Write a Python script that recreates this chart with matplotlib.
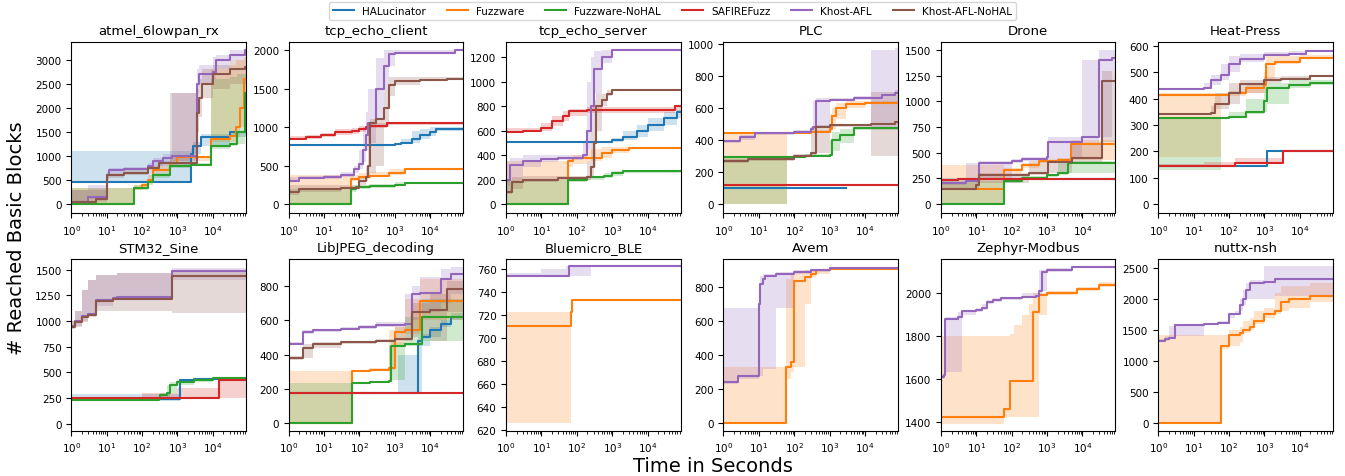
import matplotlib
matplotlib.use("Agg")
import matplotlib.pyplot as plt
from matplotlib.ticker import LogLocator, MultipleLocator

TOOLS = ["HALucinator", "Fuzzware", "Fuzzware-NoHAL", "SAFIREFuzz", "Khost-AFL", "Khost-AFL-NoHAL"]
COLORS = {
    "HALucinator": "#1f77b4",
    "Fuzzware": "#ff7f0e",
    "Fuzzware-NoHAL": "#2ca02c",
    "SAFIREFuzz": "#d62728",
    "Khost-AFL": "#9467bd",
    "Khost-AFL-NoHAL": "#8c564b",
}
T_END = 86400

# each series: (time, median, lower, upper)
ATMEL = {
    "HALucinator": ([1, 2500, 2700, 4500, 30000], [450, 1050, 1200, 1400, 1490],
                    [450, 950, 1050, 1200, 1400], [1100, 1150, 1300, 1450, 1520]),
    "Fuzzware": ([1, 58, 100, 150, 200, 600, 1000, 9000, 30000, 45000, 60000, 75000],
                 [0, 330, 400, 500, 700, 850, 980, 1350, 1420, 1600, 2000, 2600],
                 [0, 300, 350, 450, 650, 800, 900, 1300, 1300, 1400, 1600, 2000],
                 [330, 400, 450, 600, 800, 1000, 1000, 2800, 2900, 3000, 3000, 3050]),
    "Fuzzware-NoHAL": ([1, 58, 150, 200, 600, 2500, 9000, 30000, 50000, 80000],
                       [0, 330, 450, 600, 800, 820, 1200, 1250, 1500, 2300],
                       [0, 300, 400, 550, 750, 800, 1150, 1200, 1250, 1400],
                       [330, 400, 500, 650, 850, 850, 2600, 2650, 2700, 2700]),
    "Khost-AFL": ([1, 3, 10, 12, 30, 150, 200, 400, 700, 3500, 4000, 10000, 12000, 30000, 80000],
                  [50, 150, 600, 700, 730, 800, 900, 950, 1000, 2500, 2700, 2750, 3000, 3100, 3200],
                  [0, 100, 500, 650, 700, 750, 800, 850, 900, 2300, 2500, 2600, 2800, 3000, 3100],
                  [300, 400, 650, 750, 780, 850, 950, 1050, 2300, 2800, 2900, 3050, 3100, 3200, 3250]),
    "Khost-AFL-NoHAL": ([1, 5, 10, 30, 150, 300, 600, 3500, 4000, 5000, 10000, 30000, 80000],
                        [50, 100, 600, 650, 750, 850, 850, 1900, 2200, 2500, 2700, 2800, 2850],
                        [0, 50, 550, 600, 700, 800, 800, 1500, 1800, 2200, 2400, 2500, 2500],
                        [300, 300, 650, 700, 800, 900, 2300, 2400, 2600, 2800, 2900, 3000, 3050]),
}

TCP_CLIENT = {
    "HALucinator": ([1, 1000, 1500, 3000, 5000, 10000, 15000],
                    [770, 780, 790, 850, 900, 940, 970],
                    [770, 770, 780, 800, 850, 880, 950],
                    [770, 800, 850, 950, 980, 1000, 1000]),
    "Fuzzware": ([1, 58, 100, 200, 700, 2000], [0, 330, 350, 370, 400, 460],
                 [0, 300, 320, 350, 380, 450], [380, 380, 400, 420, 450, 470]),
    "Fuzzware-NoHAL": ([1, 58, 80, 200, 1000, 2000], [0, 200, 220, 230, 250, 270],
                       [0, 150, 200, 210, 230, 260], [200, 230, 250, 260, 280, 280]),
    "SAFIREFuzz": ([1, 3, 8, 20, 60, 100, 150, 200, 600],
                   [850, 870, 900, 940, 950, 980, 1000, 1020, 1050],
                   [830, 840, 870, 900, 910, 940, 960, 990, 1030],
                   [880, 900, 930, 970, 990, 1020, 1050, 1060, 1070]),
    "Khost-AFL": ([1, 2, 10, 30, 70, 100, 130, 150, 180, 300, 500, 700, 1000, 50000],
                  [300, 340, 350, 380, 450, 520, 700, 900, 1050, 1500, 1800, 1950, 1970, 2000],
                  [280, 320, 330, 350, 400, 450, 550, 700, 800, 1100, 1500, 1800, 1950, 1990],
                  [350, 360, 380, 420, 500, 700, 1000, 1200, 1500, 1900, 2000, 2000, 2000, 2010]),
    "Khost-AFL-NoHAL": ([1, 2, 30, 100, 150, 180, 200, 300, 500, 700, 1000, 5000, 30000],
                        [150, 200, 210, 300, 350, 500, 1050, 1100, 1250, 1550, 1600, 1620, 1630],
                        [120, 150, 200, 250, 300, 350, 400, 500, 1000, 1400, 1550, 1600, 1620],
                        [250, 250, 250, 350, 500, 900, 1100, 1100, 1500, 1650, 1650, 1650, 1650]),
}

TCP_SERVER = {
    "HALucinator": ([1, 1000, 2000, 5000, 10000, 30000, 70000],
                    [510, 520, 550, 600, 650, 700, 750],
                    [510, 510, 520, 550, 600, 650, 700],
                    [510, 540, 600, 650, 700, 750, 770]),
    "Fuzzware": ([1, 58, 80, 200, 500, 1000, 3000], [0, 350, 380, 380, 420, 440, 460],
                 [0, 300, 330, 350, 380, 420, 450], [350, 380, 400, 450, 470, 470, 470]),
    "Fuzzware-NoHAL": ([1, 58, 200, 600, 1000, 2000], [0, 200, 220, 230, 250, 270],
                       [0, 180, 200, 210, 230, 255], [200, 220, 230, 250, 270, 280]),
    "SAFIREFuzz": ([1, 3, 10, 20, 40, 60, 200, 60000], [590, 600, 620, 680, 720, 760, 770, 800],
                   [580, 590, 600, 640, 680, 720, 740, 760], [620, 620, 660, 720, 760, 780, 790, 810]),
    "Khost-AFL": ([1, 1.3, 3, 10, 30, 150, 200, 250, 300, 500, 1000],
                  [200, 320, 350, 370, 380, 400, 600, 800, 1100, 1200, 1260],
                  [150, 200, 300, 340, 360, 380, 450, 600, 900, 1150, 1250],
                  [350, 380, 400, 400, 400, 500, 1000, 1200, 1250, 1260, 1265]),
    "Khost-AFL-NoHAL": ([1, 1.5, 3, 30, 200, 250, 300, 350, 500, 700, 1000],
                        [100, 180, 200, 210, 220, 300, 500, 800, 850, 900, 930],
                        [80, 120, 180, 200, 200, 220, 300, 600, 800, 880, 920],
                        [200, 220, 230, 230, 350, 600, 850, 900, 900, 930, 940]),
}

PLC = {
    "HALucinator": ([1, 3000], [100, 100], [100, 100], [100, 100]),
    "Fuzzware": ([1, 62, 300, 1000, 1200, 1500, 3000, 10000],
                 [440, 440, 450, 470, 550, 600, 620, 630],
                 [0, 440, 440, 450, 470, 530, 600, 620],
                 [440, 440, 460, 560, 600, 630, 640, 640]),
    "Fuzzware-NoHAL": ([1, 62, 200, 1000, 1200, 2000, 5000],
                       [295, 295, 300, 305, 400, 430, 475],
                       [0, 295, 295, 300, 330, 380, 460],
                       [300, 300, 310, 400, 450, 470, 480]),
    "SAFIREFuzz": ([1], [115], [115], [115]),
    "Khost-AFL": ([1, 3, 8, 100, 300, 350, 400, 1000, 5000, 15000, 30000, 70000],
                  [390, 420, 440, 450, 470, 480, 640, 650, 660, 660, 680, 690],
                  [380, 400, 430, 440, 450, 460, 480, 640, 650, 470, 470, 480],
                  [400, 430, 450, 460, 480, 640, 660, 660, 670, 960, 960, 970]),
    "Khost-AFL-NoHAL": ([1, 5, 100, 300, 400, 1000, 15000, 70000],
                        [265, 280, 300, 320, 480, 490, 500, 510],
                        [255, 270, 290, 300, 320, 480, 300, 300],
                        [280, 290, 310, 480, 490, 500, 700, 710]),
}

DRONE = {
    "HALucinator": ([1, 3], [235, 240], [235, 240], [235, 240]),
    "Fuzzware": ([1, 60, 200, 600, 2000, 4700], [150, 330, 380, 420, 430, 580],
                 [0, 300, 350, 400, 420, 430], [380, 350, 400, 430, 450, 620]),
    "Fuzzware-NoHAL": ([1, 60, 200, 1000, 2000, 4000], [0, 220, 250, 280, 300, 400],
                       [0, 200, 230, 260, 280, 300], [220, 240, 270, 290, 400, 420]),
    "SAFIREFuzz": ([1, 3], [230, 240], [230, 240], [230, 240]),
    "Khost-AFL": ([1, 5, 12, 100, 200, 1000, 1100, 10000, 30000, 70000],
                  [200, 220, 400, 420, 440, 460, 600, 650, 1400, 1420],
                  [180, 200, 250, 400, 420, 440, 450, 600, 650, 1300],
                  [250, 400, 420, 440, 460, 600, 650, 1400, 1500, 1500]),
    "Khost-AFL-NoHAL": ([1, 10, 12, 300, 1100, 5000, 35000],
                        [150, 180, 280, 300, 410, 450, 1200],
                        [140, 150, 200, 280, 300, 400, 600],
                        [200, 250, 300, 420, 450, 600, 1300]),
}

HEAT_PRESS = {
    "HALucinator": ([1, 1200], [145, 200], [145, 200], [145, 200]),
    "Fuzzware": ([1, 60, 100, 300, 1000, 1100, 2000, 10000],
                 [415, 415, 420, 440, 450, 530, 540, 555],
                 [180, 415, 410, 420, 420, 470, 530, 550],
                 [420, 420, 430, 460, 500, 560, 560, 565]),
    "Fuzzware-NoHAL": ([1, 60, 100, 300, 1000, 1200, 5000, 20000],
                       [325, 325, 330, 350, 390, 440, 450, 460],
                       [130, 325, 330, 340, 350, 380, 440, 450],
                       [325, 330, 350, 400, 450, 460, 470, 470]),
    "SAFIREFuzz": ([1, 20, 150, 3300], [145, 145, 155, 200], [145, 145, 150, 200], [150, 160, 175, 200]),
    "Khost-AFL": ([1, 20, 30, 60, 100, 200, 1000, 5000, 15000],
                  [435, 440, 470, 490, 530, 550, 565, 570, 580],
                  [435, 435, 450, 470, 500, 540, 560, 565, 575],
                  [440, 460, 490, 530, 560, 570, 575, 580, 585]),
    "Khost-AFL-NoHAL": ([1, 30, 40, 100, 200, 1000, 3000, 20000],
                        [340, 345, 380, 420, 455, 470, 475, 485],
                        [340, 340, 360, 380, 420, 460, 470, 480],
                        [345, 370, 420, 460, 470, 480, 485, 490]),
}

STM32_SINE = {
    "HALucinator": ([1, 1200, 3000], [240, 420, 430], [220, 400, 420], [290, 430, 440]),
    "Fuzzware-NoHAL": ([1, 100, 300, 320, 500, 600, 1000, 3000, 10000],
                       [225, 230, 240, 280, 300, 380, 400, 420, 440],
                       [220, 225, 230, 240, 260, 300, 380, 400, 430],
                       [230, 240, 280, 300, 380, 400, 420, 440, 450]),
    "SAFIREFuzz": ([1, 100, 1000, 15000], [245, 250, 250, 420],
                   [240, 245, 245, 250], [250, 300, 350, 420]),
    "Khost-AFL": ([1, 1.3, 2, 3, 5, 15, 20, 700],
                  [950, 1000, 1050, 1070, 1200, 1220, 1230, 1490],
                  [930, 950, 1000, 1050, 1150, 1200, 1210, 1400],
                  [1000, 1100, 1300, 1400, 1450, 1450, 1470, 1520]),
    "Khost-AFL-NoHAL": ([1, 1.3, 2, 3, 5, 15, 20, 700],
                        [940, 990, 1040, 1060, 1190, 1210, 1215, 1440],
                        [920, 940, 990, 1040, 1100, 1100, 1100, 1080],
                        [1000, 1100, 1300, 1400, 1450, 1450, 1470, 1500]),
}

LIBJPEG = {
    "HALucinator": ([1, 1200, 4400, 6000, 10000, 20000, 40000],
                    [175, 175, 480, 500, 540, 580, 620],
                    [175, 175, 175, 450, 500, 560, 600],
                    [175, 400, 500, 520, 560, 600, 640]),
    "Fuzzware": ([1, 60, 200, 700, 1000, 2000, 5000], [0, 305, 310, 320, 530, 540, 710],
                 [0, 300, 305, 310, 450, 520, 600], [305, 310, 320, 540, 560, 720, 840]),
    "Fuzzware-NoHAL": ([1, 60, 200, 700, 800, 2000, 6000], [0, 235, 240, 245, 450, 460, 620],
                       [0, 230, 235, 240, 250, 450, 480], [235, 240, 245, 450, 470, 620, 720]),
    "SAFIREFuzz": ([1], [175], [175], [175]),
    "Khost-AFL": ([1, 2.5, 5, 30, 100, 300, 2000, 3000, 5000, 20000, 40000],
                  [460, 530, 540, 550, 560, 570, 575, 750, 760, 840, 870],
                  [455, 520, 530, 540, 550, 560, 560, 600, 650, 700, 750],
                  [470, 540, 550, 560, 570, 590, 750, 800, 850, 900, 910]),
    "Khost-AFL-NoHAL": ([1, 2.5, 5, 30, 300, 1000, 3000, 10000, 30000],
                        [380, 440, 460, 475, 480, 490, 650, 660, 780],
                        [370, 380, 440, 460, 470, 480, 500, 480, 650],
                        [390, 460, 470, 480, 490, 560, 700, 750, 830]),
}

BLUEMICRO = {
    "Fuzzware": ([1, 60, 70, 75], [710, 710, 722, 733], [626, 626, 722, 733], [722, 722, 733, 733]),
    "Khost-AFL": ([1, 10, 50, 60, 250], [754, 754, 754, 762, 762],
                  [754, 754, 754, 754, 762], [756, 760, 762, 762, 762]),
}

AVEM = {
    "Fuzzware": ([1, 60, 80, 100, 200, 300, 400, 1000],
                 [0, 330, 360, 840, 860, 880, 900, 910],
                 [0, 260, 300, 330, 700, 860, 880, 900],
                 [330, 850, 880, 890, 900, 905, 910, 915]),
    "Khost-AFL": ([1, 2.5, 10, 11, 13, 15, 30, 100, 300, 1000],
                  [245, 280, 700, 820, 850, 870, 880, 890, 900, 915],
                  [230, 260, 280, 280, 320, 320, 680, 880, 890, 905],
                  [680, 680, 690, 870, 880, 880, 890, 900, 910, 920]),
}

ZEPHYR = {
    "Fuzzware": ([1, 60, 90, 120, 200, 300, 400, 600, 1000, 7000, 30000],
                 [1420, 1460, 1590, 1590, 1590, 1590, 1910, 1990, 2000, 2020, 2040],
                 [1390, 1420, 1420, 1420, 1420, 1420, 1420, 1900, 1990, 2010, 2030],
                 [1800, 1800, 1810, 1850, 1900, 1950, 2000, 2000, 2010, 2030, 2050]),
    "Khost-AFL": ([1, 1.2, 1.3, 3, 4, 10, 15, 20, 30, 50, 200, 500, 600, 700, 1000, 5000],
                  [1610, 1620, 1880, 1890, 1915, 1920, 1930, 1960, 1970, 1975, 1980, 1985, 2010, 2100, 2110, 2120],
                  [1600, 1610, 1630, 1630, 1900, 1910, 1920, 1950, 1960, 1970, 1975, 1980, 1990, 2010, 2100, 2115],
                  [1620, 1880, 1890, 1910, 1920, 1930, 1950, 1970, 1975, 1980, 2000, 2000, 2110, 2110, 2115, 2125]),
}

NUTTX = {
    "Fuzzware": ([1, 60, 100, 200, 250, 400, 500, 1000, 2000, 3000, 5000, 20000],
                 [0, 1250, 1420, 1450, 1500, 1550, 1650, 1750, 1800, 1950, 2000, 2040],
                 [0, 1200, 1250, 1300, 1450, 1500, 1600, 1700, 1750, 1800, 1850, 1950],
                 [1420, 1420, 1500, 1550, 1650, 1700, 1800, 1850, 2100, 2200, 2200, 2250]),
    "Khost-AFL": ([1, 1.5, 2, 3, 20, 50, 100, 150, 200, 250, 300, 400, 1000, 2000],
                  [1320, 1350, 1370, 1580, 1590, 1610, 1750, 1760, 1900, 2000, 2150, 2250, 2270, 2320],
                  [1300, 1320, 1350, 1400, 1580, 1600, 1700, 1750, 1800, 1900, 2000, 2000, 2000, 2050],
                  [1350, 1400, 1560, 1600, 1600, 1650, 1780, 1800, 2000, 2150, 2250, 2300, 2530, 2530]),
}

# (title, series, y-limits, y-tick step)
PANELS = [
    ("atmel_6lowpan_rx", ATMEL, (-190, 3370), 500),
    ("tcp_echo_client", TCP_CLIENT, (-120, 2110), 500),
    ("tcp_echo_server", TCP_SERVER, (-75, 1325), 200),
    ("PLC", PLC, (-58, 1010), 200),
    ("Drone", DRONE, (-90, 1580), 250),
    ("Heat-Press", HEAT_PRESS, (-35, 615), 100),
    ("STM32_Sine", STM32_SINE, (-70, 1600), 250),
    ("LibJPEG_decoding", LIBJPEG, (-43, 953), 200),
    ("Bluemicro_BLE", BLUEMICRO, (619.5, 768), 20),
    ("Avem", AVEM, (-43, 965), 200),
    ("Zephyr-Modbus", ZEPHYR, (1358, 2157), 200),
    ("nuttx-nsh", NUTTX, (-118, 2634), 500),
]

# HALucinator on PLC stops early, everything else runs to the end
NO_EXTEND = {("PLC", "HALucinator")}


def draw_panel(ax, name, data, ylim, ystep):
    for tool in TOOLS:
        if tool not in data:
            continue
        t, v, lo, hi = [list(a) for a in data[tool]]
        if (name, tool) not in NO_EXTEND:
            t.append(T_END)
            v.append(v[-1])
            lo.append(lo[-1])
            hi.append(hi[-1])
        color = COLORS[tool]
        ax.fill_between(t, lo, hi, step="post", color=color, alpha=0.22, linewidth=0)
        ax.step(t, v, where="post", color=color, linewidth=1.5, label=tool)

    ax.set_xscale("log")
    ax.set_xlim(1, T_END)
    ax.set_ylim(*ylim)
    ax.xaxis.set_major_locator(LogLocator(base=10, numticks=10))
    ax.set_xticks([1, 10, 100, 1000, 10000])
    ax.yaxis.set_major_locator(MultipleLocator(ystep))
    ax.tick_params(labelsize=7.5)
    ax.set_title(name, fontsize=9.5)


fig, axes = plt.subplots(2, 6, figsize=(13.45, 4.77), dpi=100)
fig.subplots_adjust(left=0.053, right=0.991, top=0.91, bottom=0.095, wspace=0.245, hspace=0.27)

for ax, (name, data, ylim, ystep) in zip(axes.flat, PANELS):
    draw_panel(ax, name, data, ylim, ystep)

handles, labels = axes[0, 0].get_legend_handles_labels()
handles2, labels2 = axes[0, 1].get_legend_handles_labels()
lookup = dict(zip(labels2, handles2))
lookup.update(dict(zip(labels, handles)))
fig.legend([lookup[t] for t in TOOLS], TOOLS, loc="upper center", bbox_to_anchor=(0.5, 1.005),
           ncol=6, fontsize=7.5, frameon=True)

fig.text(0.53, 0.022, "Time in Seconds", ha="center", va="center", fontsize=14)
fig.text(0.012, 0.5, "# Reached Basic Blocks", ha="center", va="center", rotation=90, fontsize=14)

fig.savefig("out.png", dpi=100)
